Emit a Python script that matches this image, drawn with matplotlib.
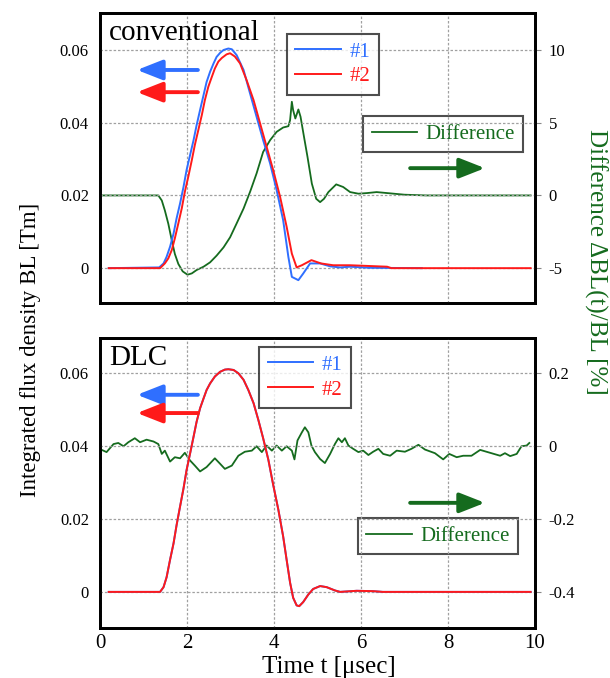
from matplotlib import pyplot as plt
import numpy as np

plt.rcParams['font.family'] = ['Liberation Serif', 'DejaVu Serif']
plt.rcParams['axes.unicode_minus'] = False

BLUE = '#2f6fff'
RED = '#ff1a1a'
GREEN = '#156b1e'

# ---- conventional: values ----
t1_conv = [0.2, 1.36, 1.46, 1.53, 1.61, 1.69, 1.76, 1.84, 1.92, 1.99, 2.07, 2.15, 2.22,
           2.30, 2.38, 2.45, 2.53, 2.61, 2.68, 2.76, 2.84, 2.95, 3.03, 3.14, 3.30,
           3.45, 3.60, 3.75, 3.91, 4.06, 4.21, 4.33, 4.41, 4.56, 4.67, 4.83, 5.06,
           5.29, 5.52, 5.75, 6.2, 7.4]
bl1_conv = [0, 0.0002, 0.0013, 0.0031, 0.0059, 0.0095, 0.0137, 0.0178, 0.0224, 0.0270,
            0.0311, 0.0352, 0.0393, 0.0435, 0.0476, 0.0512, 0.0540, 0.0563, 0.0581,
            0.0592, 0.0600, 0.0604, 0.0602, 0.0586, 0.0545, 0.0480, 0.0416, 0.0352,
            0.0288, 0.0215, 0.0132, 0.0031, -0.0024, -0.0033, -0.0015, 0.0013, 0.0013,
            0.0005, 0.0002, 0.0004, 0.0001, 0]

t2_conv = [0.2, 1.38, 1.49, 1.57, 1.65, 1.72, 1.80, 1.88, 1.95, 2.03, 2.11, 2.18, 2.26,
           2.34, 2.41, 2.49, 2.57, 2.64, 2.72, 2.80, 2.91, 2.99, 3.10, 3.22, 3.37,
           3.53, 3.68, 3.83, 3.98, 4.14, 4.29, 4.41, 4.52, 4.64, 4.86, 5.08, 5.36,
           5.75, 6.6, 6.7, 9.9]
bl2_conv = [0, 0, 0.0013, 0.0027, 0.0050, 0.0082, 0.0123, 0.0165, 0.0210, 0.0252, 0.0297,
            0.0339, 0.0380, 0.0421, 0.0462, 0.0499, 0.0526, 0.0549, 0.0568, 0.0578,
            0.0588, 0.0591, 0.0582, 0.0563, 0.0517, 0.0462, 0.0398, 0.0334, 0.0270,
            0.0196, 0.0114, 0.0040, 0.0002, 0.0008, 0.0022, 0.0013, 0.0008, 0.0008,
            0.0004, 0, 0]

td_conv = [0.0, 1.34, 1.42, 1.49, 1.57, 1.65, 1.72, 1.80, 1.90, 2.01, 2.11, 2.22, 2.38,
           2.53, 2.68, 2.84, 2.99, 3.14, 3.30, 3.45, 3.60, 3.75, 3.91, 4.06, 4.21,
           4.33, 4.37, 4.41, 4.44, 4.49, 4.56, 4.61, 4.69, 4.77, 4.87, 4.97, 5.06,
           5.15, 5.25, 5.43, 5.59, 5.75, 5.94, 6.13, 6.36, 7.0, 7.5, 9.9]
diff_conv = [0, 0, -0.35, -1.03, -1.95, -3.10, -4.02, -4.71, -5.22, -5.45, -5.36, -5.13,
             -4.90, -4.60, -4.14, -3.57, -2.88, -1.93, -0.90, 0.25, 1.52, 2.99, 3.80,
             4.37, 4.67, 4.76, 5.18, 6.44, 5.86, 5.29, 5.91, 5.41, 4.02, 2.65, 0.81,
             -0.23, -0.46, -0.23, 0.23, 0.76, 0.58, 0.23, 0.12, 0.16, 0.23, 0.05, 0, 0]

# ---- DLC ----
t_dlc = [0.2, 1.38, 1.46, 1.53, 1.61, 1.69, 1.76, 1.84, 1.92, 1.99, 2.07, 2.15, 2.22,
         2.30, 2.38, 2.45, 2.53, 2.64, 2.76, 2.87, 2.95, 3.07, 3.18, 3.30, 3.41,
         3.53, 3.64, 3.75, 3.87, 3.98, 4.10, 4.21, 4.29, 4.37, 4.44, 4.52, 4.58,
         4.67, 4.79, 4.90, 5.06, 5.21, 5.40, 5.52, 5.9, 6.28, 6.5, 9.9]
bl2_dlc = [0, 0, 0.0013, 0.0040, 0.0088, 0.0133, 0.0183, 0.0234, 0.0284, 0.0334, 0.0379,
           0.0425, 0.0466, 0.0503, 0.0530, 0.0553, 0.0571, 0.0590, 0.0603, 0.0609,
           0.0610, 0.0608, 0.0599, 0.0581, 0.0553, 0.0517, 0.0471, 0.0421, 0.0362,
           0.0294, 0.0225, 0.0152, 0.0088, 0.0025, -0.0016, -0.0037, -0.0039, -0.0028,
           -0.0007, 0.0008, 0.0016, 0.0013, 0.0004, 0.0, 0.0003, 0.0002, 0, 0]
bl1_dlc = list(bl2_dlc)  # #1 lies right under #2

td_dlc = [0.0, 0.04, 0.15, 0.31, 0.42, 0.54, 0.65, 0.80, 0.92, 1.07, 1.23, 1.34, 1.42, 1.49,
          1.61, 1.72, 1.84, 1.95, 2.07, 2.18, 2.30, 2.45, 2.64, 2.76, 2.87, 3.03, 3.18,
          3.33, 3.49, 3.60, 3.72, 3.83, 3.95, 4.06, 4.18, 4.29, 4.41, 4.47, 4.54, 4.64,
          4.71, 4.79, 4.86, 4.94, 5.06, 5.17, 5.29, 5.40, 5.48, 5.56, 5.63, 5.71, 5.82,
          5.94, 6.05, 6.17, 6.28, 6.40, 6.51, 6.67, 6.82, 7.01, 7.16, 7.32, 7.47, 7.70,
          7.89, 8.03, 8.20, 8.35, 8.54, 8.74, 8.97, 9.20, 9.31, 9.43, 9.58, 9.69, 9.81,
          9.87]
diff_dlc = [-0.008, -0.011, -0.017, 0.005, 0.008, -0.001, 0.010, 0.021, 0.010, 0.017, 0.012,
            0.005, -0.022, -0.013, -0.043, -0.031, -0.034, -0.019, -0.040, -0.054, -0.070,
            -0.058, -0.034, -0.049, -0.063, -0.054, -0.027, -0.016, -0.013, -0.001, -0.017,
            0.001, -0.013, 0.001, -0.013, -0.001, -0.013, -0.037, 0.015, 0.037, 0.051,
            0.037, 0.001, -0.017, -0.036, -0.047, -0.022, 0.005, 0.021, 0.010, 0.021, 0.001,
            -0.008, -0.017, -0.013, -0.025, -0.016, -0.008, -0.022, -0.027, -0.013, -0.016,
            -0.008, 0.003, -0.010, -0.020, -0.037, -0.022, -0.031, -0.027, -0.027, -0.011,
            -0.019, -0.027, -0.020, -0.028, -0.022, -0.001, 0.001, 0.008]

left_ticks = [0, 0.02, 0.04, 0.06]
x_ticks = [0, 2, 4, 6, 8, 10]

fig = plt.figure(figsize=(6.1, 6.78), dpi=100)
ax_top = fig.add_axes([0.164, 0.553, 0.713, 0.428])
ax_bot = fig.add_axes([0.164, 0.0737, 0.713, 0.428])


def style(ax, ax2, ylim, ylim2, yticks2):
    ax.set_xlim(0, 10)
    ax.set_ylim(*ylim)
    ax.set_xticks(x_ticks)
    ax.set_yticks(left_ticks)
    ax.set_yticklabels(['0', '0.02', '0.04', '0.06'])
    ax.grid(True, color='#a0a0a0', ls=(0, (2, 1.5)), lw=0.9)
    ax.tick_params(length=0, labelsize=12, pad=8)
    ax2.set_ylim(*ylim2)
    ax2.set_yticks(yticks2)
    ax2.tick_params(length=4, color='#888888', labelsize=12, pad=6)
    for a in (ax, ax2):
        for s in a.spines.values():
            s.set_linewidth(2)


def arrows(ax, ya, yb, yg):
    kw = dict(arrowstyle='-|>,head_length=1.4,head_width=0.55', lw=2.8,
              mutation_scale=11, shrinkA=0, shrinkB=0)
    ax.annotate('', xy=(0.85, ya), xytext=(2.25, ya), arrowprops=dict(color=BLUE, **kw))
    ax.annotate('', xy=(0.85, yb), xytext=(2.25, yb), arrowprops=dict(color=RED, **kw))
    ax.annotate('', xy=(8.85, yg), xytext=(7.13, yg), arrowprops=dict(color=GREEN, **kw))


leg_kw = dict(fontsize=15, frameon=True, fancybox=False, edgecolor='#222222',
              borderaxespad=0, handlelength=2.2, labelspacing=0.25,
              handletextpad=0.4, borderpad=0.4, labelcolor='linecolor')

# top panel
ax2_top = ax_top.twinx()
style(ax_top, ax2_top, (-0.0096, 0.0702), (-7.4, 12.55), [-5, 0, 5, 10])
ax_top.set_xticklabels([])
ax2_top.plot(td_conv, diff_conv, color=GREEN, lw=1.3, label='Difference')
ax_top.plot(t1_conv, bl1_conv, color=BLUE, lw=1.4, label='#1')
ax_top.plot(t2_conv, bl2_conv, color=RED, lw=1.4, label='#2')
ax_top.set_zorder(ax2_top.get_zorder() + 1)
ax_top.patch.set_visible(False)
arrows(ax_top, 0.0545, 0.0484, 0.0275)
lg = ax_top.legend(loc='upper left', bbox_to_anchor=(0.43, 0.928), **leg_kw)
lg.get_frame().set_linewidth(1.5)
lg = ax2_top.legend(loc='upper left', bbox_to_anchor=(0.605, 0.645), **leg_kw)
lg.get_frame().set_linewidth(1.5)
ax_top.text(0.02, 0.975, 'conventional', transform=ax_top.transAxes, fontsize=21,
            va='top', ha='left')

# bottom panel
ax2_bot = ax_bot.twinx()
style(ax_bot, ax2_bot, (-0.0099, 0.0696), (-0.499, 0.296), [-0.4, -0.2, 0, 0.2])
ax2_bot.set_yticklabels(['-0.4', '-0.2', '0', '0.2'])
ax2_bot.plot(td_dlc, diff_dlc, color=GREEN, lw=1.3, label='Difference')
ax_bot.plot(t_dlc, bl1_dlc, color=BLUE, lw=1.4, label='#1')
ax_bot.plot(t_dlc, bl2_dlc, color=RED, lw=1.4, label='#2')
ax_bot.set_zorder(ax2_bot.get_zorder() + 1)
ax_bot.patch.set_visible(False)
arrows(ax_bot, 0.054, 0.049, 0.0244)
lg = ax_bot.legend(loc='upper left', bbox_to_anchor=(0.366, 0.969), **leg_kw)
lg.get_frame().set_linewidth(1.5)
lg = ax2_bot.legend(loc='upper left', bbox_to_anchor=(0.593, 0.379), **leg_kw)
lg.get_frame().set_linewidth(1.5)
ax_bot.text(0.02, 0.975, 'DLC', transform=ax_bot.transAxes, fontsize=21,
            va='top', ha='left')
ax_bot.set_xticklabels([str(v) for v in x_ticks])
ax_bot.tick_params(axis='x', labelsize=15, pad=4)

fig.text(0.539, 0.0324, 'Time t [μsec]', fontsize=18, va='top', ha='center')
fig.text(0.05, 0.484, 'Integrated flux density BL [Tm]', rotation=90,
         fontsize=16.5, va='center', ha='center')
fig.text(0.976, 0.614, 'Difference ΔBL(t)/BL [%]', rotation=-90, color=GREEN,
         fontsize=18, va='center', ha='center')

fig.savefig('out.png', dpi=100)
